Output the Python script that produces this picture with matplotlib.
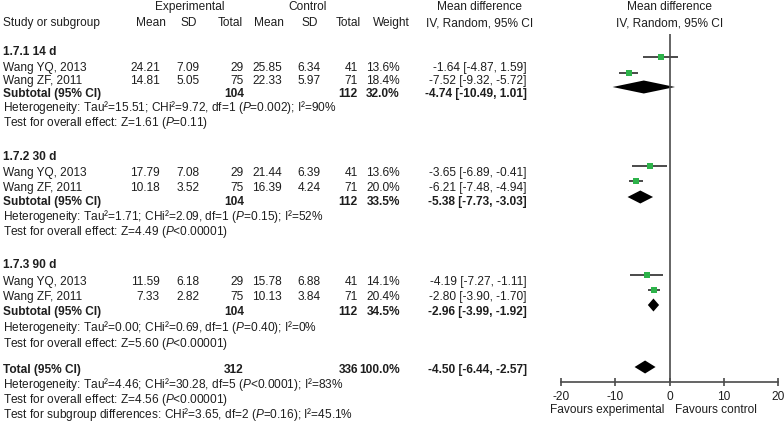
import matplotlib
matplotlib.use('Agg')
import matplotlib.pyplot as plt
import numpy as np

plt.rcParams['font.family'] = ['Liberation Sans', 'DejaVu Sans']
plt.rcParams['mathtext.fontset'] = 'custom'
plt.rcParams['mathtext.rm'] = 'Liberation Sans'
plt.rcParams['mathtext.it'] = 'Liberation Sans:italic'
plt.rcParams['mathtext.bf'] = 'Liberation Sans:bold'
plt.rcParams['axes.unicode_minus'] = False

# data
groups = ['1.7.1 14 d', '1.7.2 30 d', '1.7.3 90 d']
studies = ['Wang YQ, 2013', 'Wang ZF, 2011']
exp_mean = [[24.21, 14.81], [17.79, 10.18], [11.59, 7.33]]
exp_sd = [[7.09, 5.05], [7.08, 3.52], [6.18, 2.82]]
exp_n = [[29, 75], [29, 75], [29, 75]]
ctrl_mean = [[25.85, 22.33], [21.44, 16.39], [15.78, 10.13]]
ctrl_sd = [[6.34, 5.97], [6.39, 4.24], [6.88, 3.84]]
ctrl_n = [[41, 71], [41, 71], [41, 71]]
weight = [[13.6, 18.4], [13.6, 20.0], [14.1, 20.4]]
md = [[-1.64, -7.52], [-3.65, -6.21], [-4.19, -2.80]]
md_lo = [[-4.87, -9.32], [-6.89, -7.48], [-7.27, -3.90]]
md_hi = [[1.59, -5.72], [-0.41, -4.94], [-1.11, -1.70]]
sub_exp_n = [104, 104, 104]
sub_ctrl_n = [112, 112, 112]
sub_weight = [32.0, 33.5, 34.5]
sub_md = [-4.74, -5.38, -2.96]
sub_lo = [-10.49, -7.73, -3.99]
sub_hi = [1.01, -3.03, -1.92]
het_text = [
    'Heterogeneity: Tau\u00b2=15.51; CHi\u00b2=9.72, df=1 ($P$=0.002); I\u00b2=90%',
    'Heterogeneity: Tau\u00b2=1.71; CHi\u00b2=2.09, df=1 ($P$=0.15); I\u00b2=52%',
    'Heterogeneity: Tau\u00b2=0.00; CHi\u00b2=0.69, df=1 ($P$=0.40); I\u00b2=0%',
]
effect_text = [
    'Test for overall effect: Z=1.61 ($P$=0.11)',
    'Test for overall effect: Z=4.49 ($P$<0.00001)',
    'Test for overall effect: Z=5.60 ($P$<0.00001)',
]
total_exp_n = 312
total_ctrl_n = 336
total_md, total_lo, total_hi = -4.50, -6.44, -2.57
total_lines = [
    'Heterogeneity: Tau\u00b2=4.46; CHi\u00b2=30.28, df=5 ($P$<0.0001); I\u00b2=83%',
    'Test for overall effect: Z=4.56 ($P$<0.00001)',
    'Test for subgroup differences: CHi\u00b2=3.65, df=2 ($P$=0.16); I\u00b2=45.1%',
]

# layout (pixel rows): header, study1, study2, subtotal, heterogeneity, effect
W, H = 784, 431
text_rows = [[52, 68, 81, 94, 108, 123],
             [157, 173, 188, 202, 217, 232],
             [265, 282, 297, 312, 328, 344]]
mark_rows = [[58, 74, 88], [167, 182, 198], [276, 291, 306]]
total_y = 370
total_line_y = [385, 400, 415]
total_mark_y = 368
axis_y = 383
line_top = 35

fs = 8.6
tc = '#1e1e1e'
green = '#2db34a'
gray = '#4a4a4a'

fig = plt.figure(figsize=(W / 100, H / 100), dpi=100)
ax = fig.add_axes([0, 0, 1, 1])
ax.set_xlim(0, W)
ax.set_ylim(H, 0)
ax.axis('off')


def txt(x, y, s, ha='left', bold=False):
    ax.text(x, y, s, ha=ha, va='center', fontsize=fs, color=tc,
            fontweight='bold' if bold else 'normal')


# headers
txt(190, 7, 'Experimental', 'center')
txt(308, 7, 'Control', 'center')
txt(480, 7, 'Mean difference', 'center')
txt(670, 7, 'Mean difference', 'center')
txt(3, 23, 'Study or subgroup')
for x, s in [(151, 'Mean'), (189, 'SD'), (230, 'Total'), (269, 'Mean'),
             (310, 'SD'), (348, 'Total'), (391, 'Weight')]:
    txt(x, 23, s, 'center')
txt(480, 23, 'IV, Random, 95% CI', 'center')
txt(670, 23, 'IV, Random, 95% CI', 'center')

for g in range(3):
    r = text_rows[g]
    txt(3, r[0], groups[g], bold=True)
    for i in range(2):
        y = r[1 + i]
        txt(3, y, studies[i])
        txt(160, y, f'{exp_mean[g][i]:.2f}', 'right')
        txt(200, y, f'{exp_sd[g][i]:.2f}', 'right')
        txt(244, y, f'{exp_n[g][i]}', 'right')
        txt(282, y, f'{ctrl_mean[g][i]:.2f}', 'right')
        txt(321, y, f'{ctrl_sd[g][i]:.2f}', 'right')
        txt(358, y, f'{ctrl_n[g][i]}', 'right')
        txt(400, y, f'{weight[g][i]:.1f}%', 'right')
        txt(527, y, f'{md[g][i]:.2f} [{md_lo[g][i]:.2f}, {md_hi[g][i]:.2f}]', 'right')
    y = r[3]
    txt(3, y, 'Subtotal (95% CI)', bold=True)
    txt(244, y, f'{sub_exp_n[g]}', 'right', True)
    txt(358, y, f'{sub_ctrl_n[g]}', 'right', True)
    txt(400, y, f'{sub_weight[g]:.1f}%', 'right', True)
    txt(527, y, f'{sub_md[g]:.2f} [{sub_lo[g]:.2f}, {sub_hi[g]:.2f}]', 'right', True)
    txt(3, r[4], het_text[g])
    txt(3, r[5], effect_text[g])

txt(3, total_y, 'Total (95% CI)', bold=True)
txt(244, total_y, f'{total_exp_n}', 'right', True)
txt(358, total_y, f'{total_ctrl_n}', 'right', True)
txt(400, total_y, '100.0%', 'right', True)
txt(527, total_y, f'{total_md:.2f} [{total_lo:.2f}, {total_hi:.2f}]', 'right', True)
for y, s in zip(total_line_y, total_lines):
    txt(3, y, s)

# forest panel
x0, x1 = 561, 778
fax = fig.add_axes([x0 / W, (H - axis_y) / H, (x1 - x0) / W, (axis_y - line_top) / H])
fax.set_xlim(-20, 20)
fax.set_ylim(axis_y, line_top)
fax.patch.set_alpha(0)
for s in ['top', 'right', 'left']:
    fax.spines[s].set_visible(False)
fax.spines['bottom'].set_color(gray)
fax.spines['bottom'].set_linewidth(1.2)
fax.set_yticks([])
fax.set_xticks([-20, -10, 0, 10, 20])
fax.tick_params(axis='x', direction='inout', length=6, width=1.2, color=gray,
                labelsize=fs, labelcolor=tc, pad=2.5)
fax.axvline(0, color=gray, lw=1.2)

half_h = 6.5
for g in range(3):
    for i in range(2):
        y = mark_rows[g][i]
        fax.plot([md_lo[g][i], md_hi[g][i]], [y, y], color=gray, lw=1.4, solid_capstyle='butt')
        fax.plot(md[g][i], y, 's', color=green, ms=np.sqrt(weight[g][i]) * 1.05, mew=0)
    y = mark_rows[g][2]
    fax.fill([sub_lo[g], sub_md[g], sub_hi[g], sub_md[g]],
             [y, y - half_h, y, y + half_h], color='black', lw=0)

fax.fill([total_lo, total_md, total_hi, total_md],
         [total_mark_y, total_mark_y - half_h, total_mark_y, total_mark_y + half_h],
         color='black', lw=0)

txt(664, 410, 'Favours experimental', 'right')
txt(675, 410, 'Favours control', 'left')

fig.savefig('out.png', dpi=100)
